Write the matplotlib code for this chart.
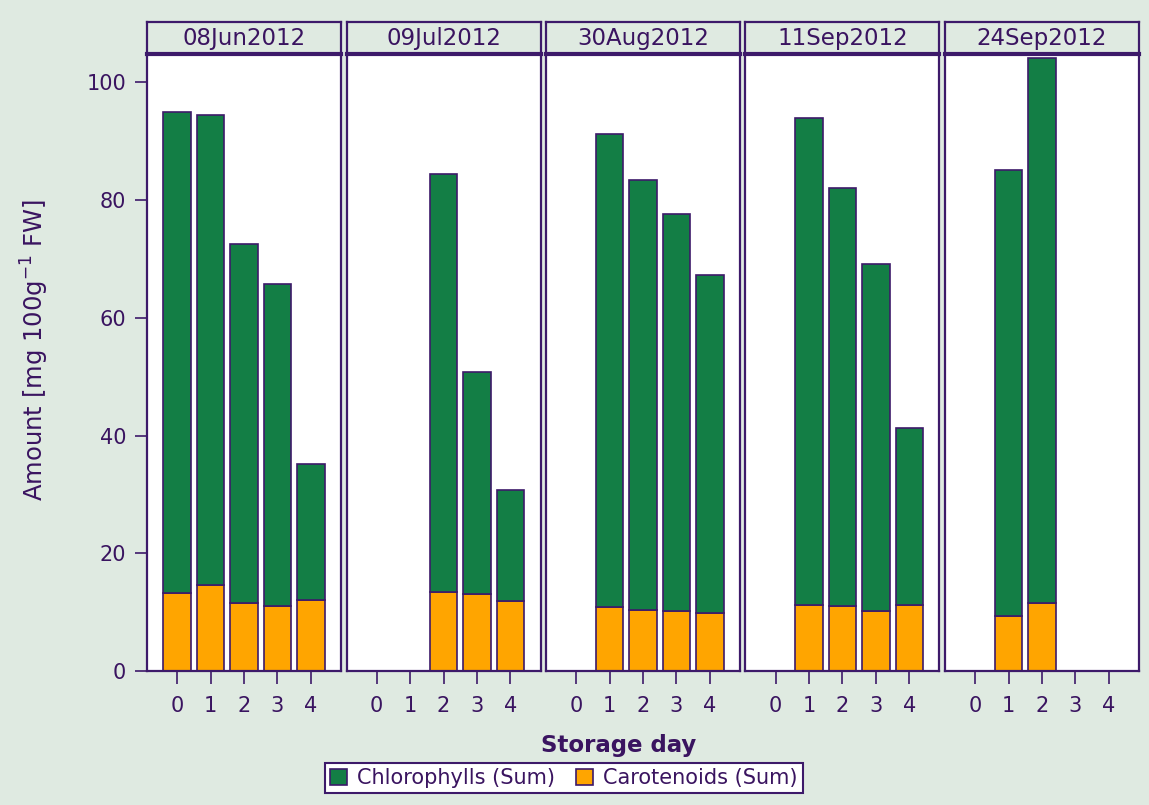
import matplotlib.pyplot as plt
import numpy as np
from matplotlib.patches import Patch

plt.rcParams['font.family'] = ['DejaVu Sans']

dates = ['08Jun2012', '09Jul2012', '30Aug2012', '11Sep2012', '24Sep2012']
days = [0, 1, 2, 3, 4]
nan = np.nan

# carotenoids sit at the bottom of each stack, chlorophylls on top
carotenoids = [
    [13.2, 14.6, 11.5, 11.0, 12.0],
    [nan, nan, 13.4, 13.1, 11.9],
    [nan, 10.9, 10.4, 10.2, 9.8],
    [nan, 11.2, 11.0, 10.2, 11.2],
    [nan, 9.3, 11.5, nan, nan],
]
chlorophylls = [
    [81.7, 79.8, 61.0, 54.7, 23.1],
    [nan, nan, 71.0, 37.7, 18.8],
    [nan, 80.3, 73.0, 67.4, 57.4],
    [nan, 82.7, 71.0, 58.9, 30.1],
    [nan, 75.8, 92.7, nan, nan],
]

green = '#137e45'
orange = '#ffa500'
purple = '#3d1a6a'
textc = '#3a1460'
bg = '#dfeae1'

fig = plt.figure(figsize=(11.49, 8.05), dpi=100, facecolor=bg)
W, H = 1149.0, 805.0

left0 = 147 / W
pw = 194 / W
gap = 5.5 / W
bottom = (H - 671) / H
ph = (671 - 54) / H
strip_h = 32 / H

for i, date in enumerate(dates):
    x0 = left0 + i * (pw + gap)
    ax = fig.add_axes([x0, bottom, pw, ph])
    ax.set_facecolor('white')
    car = np.array(carotenoids[i])
    chl = np.array(chlorophylls[i])
    ax.bar(days, car, width=0.83, color=orange, edgecolor=purple, linewidth=1.2)
    ax.bar(days, chl, bottom=car, width=0.83, color=green, edgecolor=purple, linewidth=1.2)
    ax.set_xlim(-0.9, 4.9)
    ax.set_ylim(0, 104.8)
    ax.set_xticks(days)
    ax.tick_params(axis='x', length=9, width=1.2, color=purple, labelcolor=textc,
                   labelsize=15, pad=9)
    for s in ax.spines.values():
        s.set_color(purple)
        s.set_linewidth(1.6)
    if i == 0:
        ax.set_yticks([0, 20, 40, 60, 80, 100])
        ax.tick_params(axis='y', length=9, width=1.2, color=purple, labelcolor=textc,
                       labelsize=15, pad=6)
    else:
        ax.set_yticks([])

    # panel header strip
    sax = fig.add_axes([x0, bottom + ph, pw, strip_h])
    sax.set_facecolor(bg)
    sax.set_xticks([])
    sax.set_yticks([])
    for s in sax.spines.values():
        s.set_color(purple)
        s.set_linewidth(1.6)
    sax.spines['bottom'].set_linewidth(3)
    sax.text(0.5, 0.47, date, ha='center', va='center', fontsize=16.5, color=textc,
             transform=sax.transAxes)

fig.text(35 / W, 1 - 350 / H, 'Amount [mg 100g$^{-1}$ FW]', rotation=90,
         ha='center', va='center', fontsize=17.5, color=textc)
fig.text(619 / W, 1 - 745 / H, 'Storage day', ha='center', va='center',
         fontsize=16.5, fontweight='bold', color=textc)

handles = [Patch(facecolor=green, edgecolor=purple, linewidth=1.2, label='Chlorophylls (Sum)'),
           Patch(facecolor=orange, edgecolor=purple, linewidth=1.2, label='Carotenoids (Sum)')]
leg = fig.legend(handles=handles, loc='center', bbox_to_anchor=(564 / W, 1 - 778 / H),
                 ncol=2, frameon=True, fancybox=False, framealpha=1, fontsize=15,
                 handlelength=0.8, handleheight=0.8, handletextpad=0.5,
                 columnspacing=1.0, borderpad=0.25, borderaxespad=0)
leg.get_frame().set_edgecolor(purple)
leg.get_frame().set_linewidth(1.5)
for t in leg.get_texts():
    t.set_color(textc)

fig.savefig('out.png', dpi=100, facecolor=bg)
